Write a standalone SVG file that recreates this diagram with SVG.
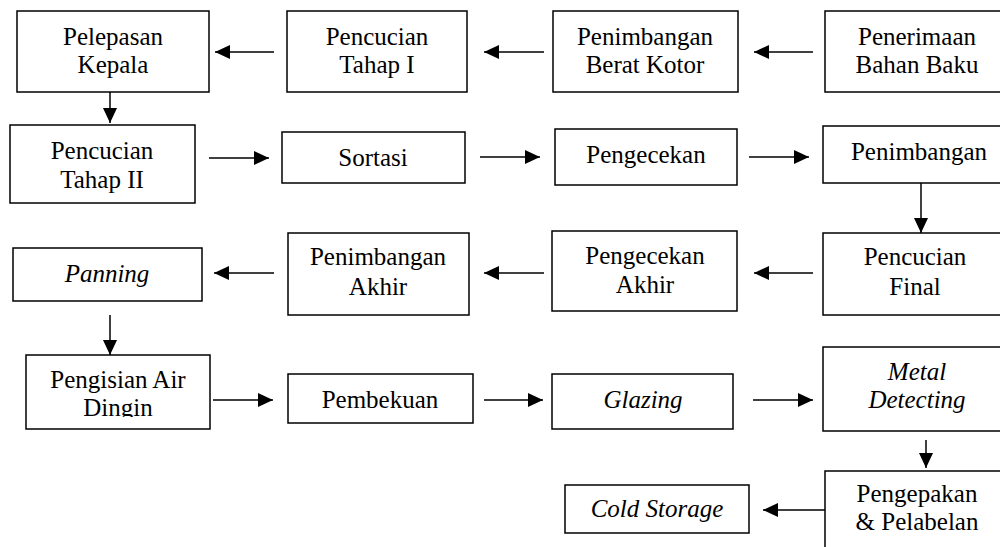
<svg xmlns="http://www.w3.org/2000/svg" width="1000" height="547" viewBox="0 0 1000 547">
  <style>
    .box { fill: #ffffff; stroke: #000000; stroke-width: 1.5; }
    .lbl { font-family: "Liberation Serif", "Times New Roman", serif; font-size: 25px; fill: #000000; text-anchor: middle; }
    .it { font-style: italic; }
    .conn line { stroke: #000000; stroke-width: 1.5; marker-end: url(#head); }
  </style>
  <defs>
    <marker id="head" markerUnits="userSpaceOnUse" markerWidth="15" markerHeight="14" refX="15" refY="7" orient="auto">
      <path d="M0,0 L15,7 L0,14 Z" fill="#000000"/>
    </marker>
    <clipPath id="clipPengisian">
      <rect x="26" y="355" width="184" height="62"/>
    </clipPath>
  </defs>
  <rect width="1000" height="547" fill="#ffffff"/>

  <!-- row 1 -->
  <g id="pelepasan-kepala">
    <rect class="box" x="17" y="11" width="192" height="81"/>
    <text class="lbl" x="113" y="45">Pelepasan</text>
    <text class="lbl" x="113" y="73">Kepala</text>
  </g>
  <g id="pencucian-tahap-1">
    <rect class="box" x="287" y="11" width="180" height="81"/>
    <text class="lbl" x="377" y="45">Pencucian</text>
    <text class="lbl" x="377" y="73">Tahap I</text>
  </g>
  <g id="penimbangan-berat-kotor">
    <rect class="box" x="553" y="11" width="185" height="81"/>
    <text class="lbl" x="645" y="45">Penimbangan</text>
    <text class="lbl" x="645" y="73">Berat Kotor</text>
  </g>
  <g id="penerimaan-bahan-baku">
    <rect class="box" x="825" y="11" width="200" height="81"/>
    <text class="lbl" x="917" y="45">Penerimaan</text>
    <text class="lbl" x="917" y="73">Bahan Baku</text>
  </g>

  <!-- row 2 -->
  <g id="pencucian-tahap-2">
    <rect class="box" x="10" y="125" width="185" height="78"/>
    <text class="lbl" x="102" y="159">Pencucian</text>
    <text class="lbl" x="102" y="188">Tahap II</text>
  </g>
  <g id="sortasi">
    <rect class="box" x="282" y="132" width="183" height="51"/>
    <text class="lbl" x="373" y="166">Sortasi</text>
  </g>
  <g id="pengecekan">
    <rect class="box" x="555" y="129" width="182" height="56"/>
    <text class="lbl" x="646" y="163">Pengecekan</text>
  </g>
  <g id="penimbangan">
    <rect class="box" x="823" y="126" width="200" height="57"/>
    <text class="lbl" x="919" y="160">Penimbangan</text>
  </g>

  <!-- row 3 -->
  <g id="panning">
    <rect class="box" x="13" y="248" width="189" height="53"/>
    <text class="lbl it" x="107" y="282">Panning</text>
  </g>
  <g id="penimbangan-akhir">
    <rect class="box" x="288" y="233" width="181" height="82"/>
    <text class="lbl" x="378" y="265">Penimbangan</text>
    <text class="lbl" x="378" y="295">Akhir</text>
  </g>
  <g id="pengecekan-akhir">
    <rect class="box" x="552" y="231" width="185" height="80"/>
    <text class="lbl" x="645" y="264">Pengecekan</text>
    <text class="lbl" x="645" y="293">Akhir</text>
  </g>
  <g id="pencucian-final">
    <rect class="box" x="823" y="233" width="200" height="82"/>
    <text class="lbl" x="915" y="265">Pencucian</text>
    <text class="lbl" x="915" y="295">Final</text>
  </g>

  <!-- row 4 -->
  <g id="pengisian-air-dingin">
    <rect class="box" x="26" y="355" width="184" height="74"/>
    <g clip-path="url(#clipPengisian)">
      <text class="lbl" x="118" y="388">Pengisian Air</text>
      <text class="lbl" x="118" y="416">Dingin</text>
    </g>
  </g>
  <g id="pembekuan">
    <rect class="box" x="288" y="374" width="185" height="49"/>
    <text class="lbl" x="380" y="408">Pembekuan</text>
  </g>
  <g id="glazing">
    <rect class="box" x="552" y="374" width="181" height="55"/>
    <text class="lbl it" x="643" y="408">Glazing</text>
  </g>
  <g id="metal-detecting">
    <rect class="box" x="823" y="347" width="200" height="84"/>
    <text class="lbl it" x="917" y="380">Metal</text>
    <text class="lbl it" x="917" y="408">Detecting</text>
  </g>

  <!-- row 5 -->
  <g id="cold-storage">
    <rect class="box" x="565" y="485" width="184" height="48"/>
    <text class="lbl it" x="657" y="517">Cold Storage</text>
  </g>
  <g id="pengepakan-pelabelan">
    <rect class="box" x="825" y="471" width="200" height="100"/>
    <text class="lbl" x="917" y="502">Pengepakan</text>
    <text class="lbl" x="917" y="530">&amp; Pelabelan</text>
  </g>

  <!-- flow connectors -->
  <g id="connectors" class="conn">
    <line x1="813" y1="52" x2="754" y2="52"/>
    <line x1="544" y1="52" x2="484" y2="52"/>
    <line x1="274" y1="52" x2="215" y2="52"/>
    <line x1="110" y1="92" x2="110" y2="123"/>
    <line x1="209" y1="158" x2="269" y2="158"/>
    <line x1="480" y1="157" x2="540" y2="157"/>
    <line x1="749" y1="157" x2="809" y2="157"/>
    <line x1="921" y1="183" x2="921" y2="233"/>
    <line x1="813" y1="273" x2="754" y2="273"/>
    <line x1="544" y1="273" x2="484" y2="273"/>
    <line x1="274" y1="273" x2="214" y2="273"/>
    <line x1="110" y1="315" x2="110" y2="355"/>
    <line x1="213" y1="400" x2="273" y2="400"/>
    <line x1="484" y1="400" x2="543" y2="400"/>
    <line x1="753" y1="400" x2="813" y2="400"/>
    <line x1="926" y1="440" x2="926" y2="468"/>
    <line x1="825" y1="510" x2="763" y2="510"/>
  </g>
</svg>
